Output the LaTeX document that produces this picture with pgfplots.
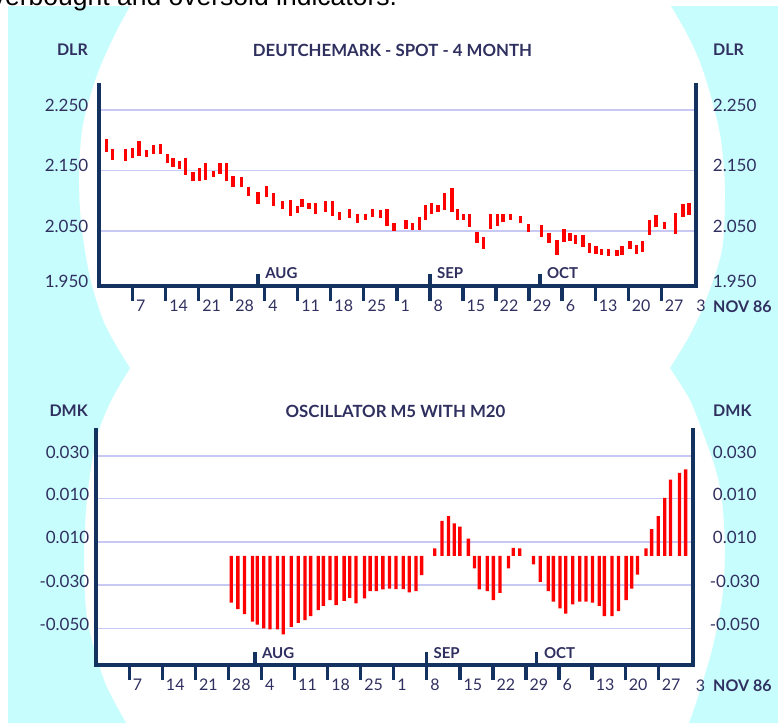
\documentclass[border=0pt]{standalone}
\usepackage{pgfplots}
\pgfplotsset{compat=1.18}
\usepackage{pgfplotstable}
\usepackage{fontspec}
\setmainfont{Lato}
\newfontfamily\capfont{Liberation Sans}

\definecolor{navy}{RGB}{20,50,95}
\definecolor{labtxt}{RGB}{48,48,96}
\definecolor{gridc}{RGB}{200,200,245}
\definecolor{bgcyan}{RGB}{200,253,253}
\definecolor{barred}{RGB}{255,0,0}

% daily high/low, DLR per DM (x = day, 1 = 1 Jul)
\pgfplotstableread{
d hi lo
1.5 2.202 2.181
2.8 2.185 2.168
5.5 2.185 2.165
7.0 2.187 2.170
8.4 2.198 2.174
10.0 2.184 2.173
11.4 2.192 2.178
12.9 2.193 2.178
14.4 2.178 2.163
15.6 2.170 2.155
16.9 2.165 2.152
18.2 2.170 2.143
19.8 2.148 2.133
21.2 2.154 2.133
22.5 2.162 2.134
24.1 2.150 2.140
25.5 2.163 2.145
26.9 2.163 2.132
28.3 2.141 2.123
30.1 2.139 2.122
31.5 2.123 2.108
33.6 2.115 2.095
35.4 2.124 2.106
36.9 2.113 2.091
38.8 2.099 2.087
40.5 2.101 2.075
41.9 2.091 2.079
42.9 2.103 2.090
44.4 2.096 2.086
45.8 2.096 2.078
47.9 2.099 2.082
49.3 2.100 2.075
50.9 2.082 2.069
53.0 2.086 2.071
54.6 2.078 2.064
56.4 2.078 2.068
57.9 2.086 2.073
59.5 2.084 2.071
60.9 2.086 2.059
62.4 2.064 2.050
64.9 2.069 2.053
66.3 2.063 2.052
67.8 2.073 2.052
69.1 2.093 2.069
70.4 2.096 2.078
71.7 2.093 2.082
73.1 2.112 2.085
74.7 2.121 2.082
75.9 2.086 2.068
77.1 2.078 2.068
78.4 2.078 2.056
80.0 2.048 2.030
81.4 2.040 2.021
82.8 2.078 2.053
84.3 2.078 2.058
85.5 2.078 2.065
87.0 2.078 2.069
89.2 2.075 2.063
90.9 2.062 2.049
93.6 2.060 2.040
95.2 2.047 2.031
96.9 2.035 2.010
98.4 2.053 2.032
99.7 2.046 2.034
100.9 2.043 2.029
102.4 2.043 2.024
103.8 2.030 2.013
105.2 2.025 2.012
106.4 2.021 2.010
107.8 2.021 2.008
109.6 2.018 2.009
110.7 2.025 2.010
112.4 2.034 2.021
113.8 2.027 2.012
115.1 2.034 2.016
116.5 2.068 2.043
117.9 2.076 2.056
119.7 2.065 2.053
122.0 2.080 2.045
123.6 2.095 2.073
124.9 2.096 2.076
}\dlrdata

% oscillator M5 - M20
\pgfplotstableread{
d v
28.6 -0.0217
30.0 -0.0248
31.4 -0.0271
33.1 -0.0306
34.1 -0.0319
35.5 -0.0337
36.8 -0.0342
38.4 -0.0342
39.6 -0.0365
41.3 -0.0330
42.8 -0.0311
44.2 -0.0299
45.4 -0.0280
47.0 -0.0252
48.1 -0.0232
49.5 -0.0206
50.8 -0.0229
52.5 -0.0209
53.7 -0.0195
55.0 -0.0221
56.8 -0.0198
58.0 -0.0164
59.3 -0.0164
60.7 -0.0156
62.1 -0.0152
63.5 -0.0155
65.0 -0.0155
66.3 -0.0170
67.7 -0.0164
68.9 -0.0090
71.7 0.0034
73.2 0.0162
74.6 0.0184
75.8 0.0150
77.0 0.0135
78.8 0.0080
80.1 -0.0059
81.1 -0.0156
82.8 -0.0164
84.1 -0.0206
85.5 -0.0172
87.3 -0.0059
88.3 0.0037
89.7 0.0034
92.6 -0.0040
94.0 -0.0121
95.7 -0.0164
96.8 -0.0213
98.2 -0.0244
99.4 -0.0268
100.9 -0.0226
102.4 -0.0213
103.7 -0.0213
105.1 -0.0218
106.5 -0.0232
107.6 -0.0280
109.2 -0.0280
110.6 -0.0257
112.2 -0.0206
113.4 -0.0152
114.6 -0.0087
116.4 0.0034
117.6 0.0124
119.0 0.0184
120.4 0.0269
121.6 0.0354
123.5 0.0385
124.8 0.0401
}\oscdata

\tikzset{
  lab/.style={inner sep=0pt, text=labtxt, font=\fontsize{17}{20}\selectfont},
  blab/.style={inner sep=0pt, text=labtxt, font=\bfseries\fontsize{16}{19}\selectfont},
  tlab/.style={inner sep=0pt, text=labtxt, font=\bfseries\fontsize{16.8}{20}\selectfont},
  mlab/.style={inner sep=0pt, text=labtxt, font=\bfseries\fontsize{15}{18}\selectfont},
}
\pgfplotsset{
  chartbase/.style={
    scale only axis, anchor=south west, clip=false,
    xmin=-0.1, xmax=126.3,
    axis x line*=bottom, axis y line*=left,
    axis line style={draw=none},
    scaled y ticks=false,
    xtick={7,14,...,119},
    xticklabels={7,14,21,28,4,11,18,25,1,8,15,22,29,6,13,20,27},
    tick align=outside, major tick length=15pt,
    xtick style={navy, line width=3.3pt},
    ytick style={draw=none},
    ymajorgrids, grid style={gridc, line width=1.5pt},
    xticklabel style={anchor=north west, inner sep=0pt, xshift=3.5pt, yshift=1pt,
      text=labtxt, font=\fontsize{16}{19}\selectfont},
    yticklabel style={anchor=east, inner sep=0pt, text=labtxt,
      font=\fontsize{17}{20}\selectfont},
  },
}

\begin{document}
\begin{tikzpicture}[x=1pt,y=-1pt]
\useasboundingbox (0,0) rectangle (778,723);
\clip (0,0) rectangle (778,723);
\fill[white] (0,0) rectangle (778,723);

% side panels
\fill[bgcyan] (8,6) -- plot[smooth] coordinates {(130,6) (116,32) (100,67) (89,100) (82,130) (79,170) (80,210) (84,245) (91,282) (103,320) (117,347) (130,368)}
  -- plot[smooth] coordinates {(130,368) (118,388) (109,405) (99,430) (91,467) (86,510) (84,560) (86,610) (93,645) (106,685) (126,723)}
  -- (8,723) -- cycle;
\fill[bgcyan] (778,6) -- plot[smooth] coordinates {(671,6) (686,32) (700,62) (712,100) (721,140) (725,190) (722,250) (706,300) (690,335) (670,368)}
  -- plot[smooth] coordinates {(670,368) (690,400) (703,433) (715,467) (722,500) (725,550) (722,600) (712,650) (697,700) (689,723)}
  -- (778,723) -- cycle;

\node[anchor=base west, inner sep=0pt, font=\capfont\fontsize{26.5}{30}\selectfont] at (-23,5) {overbought and oversold indicators.};

% ---------- top chart ----------
\begin{axis}[chartbase,
  at={(99pt,-286pt)}, width=596.7pt, height=202.7pt,
  ymin=1.9591, ymax=2.2941,
  ytick={1.9591,2.05,2.15,2.25}, yticklabels={1.950,2.050,2.150,2.250},
  yticklabel style={xshift=4.5pt, yshift=5pt},
]
\addplot[draw=none, mark=none, forget plot,
  error bars/.cd, y dir=both, y explicit, error mark=none,
  error bar style={line width=3.3pt, draw=barred}]
  table[x=d, y expr={(\thisrow{hi}+\thisrow{lo})/2},
        y error expr={(\thisrow{hi}-\thisrow{lo})/2}] {\dlrdata};
\draw[navy, line width=3.6pt, line join=miter]
  (rel axis cs:0,1) -- (rel axis cs:0,0) -- (rel axis cs:1,0) -- (rel axis cs:1,1);
\draw[navy, line width=3.3pt] (axis cs:33.6,1.9591) -- ++(0pt,12pt);
\draw[navy, line width=3.3pt] (axis cs:70,1.9591) -- ++(0pt,12pt);
\draw[navy, line width=3.3pt] (axis cs:93.3,1.9591) -- ++(0pt,12pt);
\node[mlab, anchor=south west, xshift=7pt, yshift=7pt] at (axis cs:33.6,1.9591) {AUG};
\node[mlab, anchor=south west, xshift=7pt, yshift=7pt] at (axis cs:70,1.9591) {SEP};
\node[mlab, anchor=south west, xshift=7pt, yshift=7pt] at (axis cs:93.3,1.9591) {OCT};
\node[lab, anchor=north west, xshift=0.5pt, yshift=-14pt, font=\fontsize{16}{19}\selectfont] at (rel axis cs:1,0) {3};
\node[lab, anchor=west, xshift=17pt, yshift=5pt] at (axis cs:126.3,2.25) {2.250};
\node[lab, anchor=west, xshift=17pt, yshift=5pt] at (axis cs:126.3,2.15) {2.150};
\node[lab, anchor=west, xshift=17pt, yshift=5pt] at (axis cs:126.3,2.05) {2.050};
\node[lab, anchor=west, xshift=17pt, yshift=5pt] at (axis cs:126.3,1.9591) {1.950};
\end{axis}

\node[tlab, anchor=center] at (392.5,50) {DEUTCHEMARK - SPOT - 4 MONTH};
\node[blab, anchor=east] at (88,50) {DLR};
\node[blab, anchor=west] at (713,50) {DLR};
\node[blab, anchor=west] at (713,307) {NOV 86};

% ---------- bottom chart ----------
\begin{axis}[chartbase,
  at={(95.7pt,-665pt)}, width=597pt, height=237pt,
  ymin=-0.0507, ymax=0.0593,
  ytick={-0.0337,-0.0136,0.0065,0.0266,0.0463},
  yticklabels={-0.050,-0.030,0.010,0.010,0.030},
  yticklabel style={xshift=8.8pt, yshift=4pt},
]
\addplot[ybar, bar width=3.3pt, fill=barred, draw=none, forget plot]
  table[x=d, y=v] {\oscdata};
\draw[navy, line width=3.6pt, line join=miter]
  (rel axis cs:0,1) -- (rel axis cs:0,0) -- (rel axis cs:1,0) -- (rel axis cs:1,1);
\draw[navy, line width=3.3pt] (axis cs:33.6,-0.0507) -- ++(0pt,13pt);
\draw[navy, line width=3.3pt] (axis cs:69.9,-0.0507) -- ++(0pt,13pt);
\draw[navy, line width=3.3pt] (axis cs:93.3,-0.0507) -- ++(0pt,13pt);
\node[mlab, anchor=south west, xshift=7pt, yshift=6pt] at (axis cs:33.6,-0.0507) {AUG};
\node[mlab, anchor=south west, xshift=7pt, yshift=6pt] at (axis cs:69.9,-0.0507) {SEP};
\node[mlab, anchor=south west, xshift=7pt, yshift=6pt] at (axis cs:93.3,-0.0507) {OCT};
\node[lab, anchor=north west, xshift=3pt, yshift=-15pt, font=\fontsize{16}{19}\selectfont] at (rel axis cs:1,0) {3};
\node[lab, anchor=west, xshift=20pt, yshift=4pt] at (axis cs:126.3,0.0463) {0.030};
\node[lab, anchor=west, xshift=20pt, yshift=4pt] at (axis cs:126.3,0.0266) {0.010};
\node[lab, anchor=west, xshift=20pt, yshift=4pt] at (axis cs:126.3,0.0065) {0.010};
\node[lab, anchor=west, xshift=17pt, yshift=4pt] at (axis cs:126.3,-0.0136) {-0.030};
\node[lab, anchor=west, xshift=17pt, yshift=4pt] at (axis cs:126.3,-0.0337) {-0.050};
\end{axis}

\node[tlab, anchor=center] at (395.5,411) {OSCILLATOR M5 WITH M20};
\node[blab, anchor=east] at (88,411) {DMK};
\node[blab, anchor=west] at (713,411) {DMK};
\node[blab, anchor=west] at (713,686) {NOV 86};
\end{tikzpicture}
\end{document}
